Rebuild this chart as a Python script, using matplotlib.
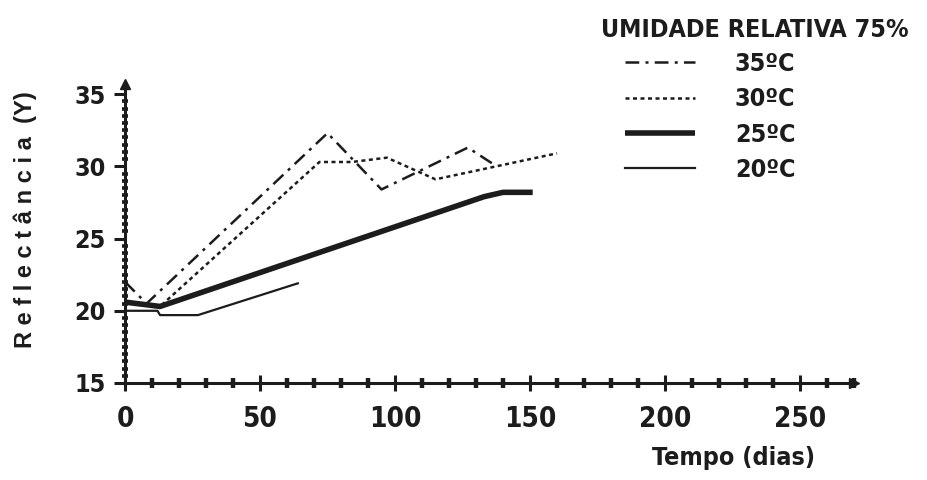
import matplotlib
matplotlib.use("Agg")
import matplotlib.pyplot as plt
from matplotlib.ticker import MultipleLocator
from matplotlib import font_manager as fm

# ---- data ----
t35 = [0, 8, 75, 95, 127, 136]
y35 = [22.0, 20.5, 32.3, 28.4, 31.3, 30.2]

t30 = [0, 13, 72, 84, 97, 115, 160]
y30 = [20.6, 20.3, 30.3, 30.3, 30.6, 29.1, 30.9]

t25 = [0, 13, 133, 140, 151]
y25 = [20.6, 20.3, 27.9, 28.2, 28.2]

t20 = [0, 12, 13, 27, 64]
y20 = [20.0, 20.0, 19.7, 19.7, 21.9]

labels = ["35ºC", "30ºC", "25ºC", "20ºC"]
xticks = [0, 50, 100, 150, 200, 250]
yticks = [15, 20, 25, 30, 35]
title = "UMIDADE RELATIVA 75%"
xlabel = "Tempo (dias)"
ylabel = "R e f l e c t â n c i a  (Y)"

INK = "#1c1c1c"


def pick_condensed_bold():
    cands = []
    for f in fm.fontManager.ttflist:
        fn = f.fname.lower()
        w = f.weight if isinstance(f.weight, int) else 400
        narrow = ("narrow" in fn or "condensed" in fn or
                  str(f.stretch) in ("condensed", "semi-condensed", "extra-condensed"))
        if narrow and (w >= 600 or "bold" in fn) and "italic" not in fn and "oblique" not in fn:
            cands.append(f)
    pref = ["liberation sans narrow", "dejavu sans", "roboto", "open sans", "noto sans"]
    for p in pref:
        for f in cands:
            if f.name.lower().startswith(p):
                return fm.FontProperties(fname=f.fname)
    if cands:
        return fm.FontProperties(fname=cands[0].fname)
    return fm.FontProperties(family=["Liberation Sans", "DejaVu Sans"], weight="bold")


cond = pick_condensed_bold()


def fp(size, base=cond):
    p = base.copy()
    p.set_size(size)
    return p


fig = plt.figure(figsize=(9.27, 4.80), dpi=100)
ax = fig.add_axes([125 / 927, 97 / 480, 729 / 927, 299 / 480])

l35, = ax.plot(t35, y35, color=INK, lw=1.8, linestyle=(0, (5.5, 2.5, 1.2, 2.5)))
l30, = ax.plot(t30, y30, color=INK, lw=1.8, linestyle=(0, (1.6, 1.4)))
l25, = ax.plot(t25, y25, color=INK, lw=4.0, solid_capstyle="butt")
l20, = ax.plot(t20, y20, color=INK, lw=1.6)

ax.set_xlim(0, 270)
ax.set_ylim(15, 35.7)
for s in ("top", "right"):
    ax.spines[s].set_visible(False)
for s in ("left", "bottom"):
    ax.spines[s].set_linewidth(2.2)
    ax.spines[s].set_color(INK)

ax.plot([1], [0], marker=">", markersize=7, color=INK, transform=ax.transAxes, clip_on=False)
ax.plot([0], [1], marker="^", markersize=7, color=INK, transform=ax.transAxes, clip_on=False)

ax.set_xticks(xticks)
ax.set_yticks(yticks)
ax.xaxis.set_minor_locator(MultipleLocator(10))
ax.yaxis.set_minor_locator(MultipleLocator(0.5))
ax.tick_params(axis="x", which="major", direction="inout", length=12, width=2.2, color=INK, pad=10)
ax.tick_params(axis="x", which="minor", direction="inout", length=7, width=3.2, color=INK)
ax.tick_params(axis="y", which="major", direction="out", length=8, width=2.2, color=INK, pad=6)
ax.tick_params(axis="y", which="minor", direction="inout", length=4, width=2.6, color=INK)

for lab in ax.get_xticklabels():
    lab.set_fontproperties(fp(20)); lab.set_color(INK)
for lab in ax.get_yticklabels():
    lab.set_fontproperties(fp(18)); lab.set_color(INK)

fig.text(733 / 927, 1 - 458 / 480, xlabel, fontproperties=fp(18), color=INK,
         ha="center", va="center")
fig.text(25 / 927, 1 - 220 / 480, ylabel, family=["Liberation Sans", "DejaVu Sans"],
         fontweight="bold", fontsize=17, color=INK, ha="center", va="center", rotation=90)

fig.text(601 / 927, 1 - 30 / 480, title, fontproperties=fp(18), color=INK,
         ha="left", va="center")

leg = ax.legend([l35, l30, l25, l20], labels, loc="upper left",
                bbox_to_anchor=(620 / 927, 1 - 47 / 480), bbox_transform=fig.transFigure,
                frameon=False, handlelength=2.8, handletextpad=1.6, labelspacing=0.45,
                borderaxespad=0, borderpad=0.2, prop=fp(18))
for txt in leg.get_texts():
    txt.set_color(INK)

fig.savefig("out.png", dpi=100, facecolor="white")
